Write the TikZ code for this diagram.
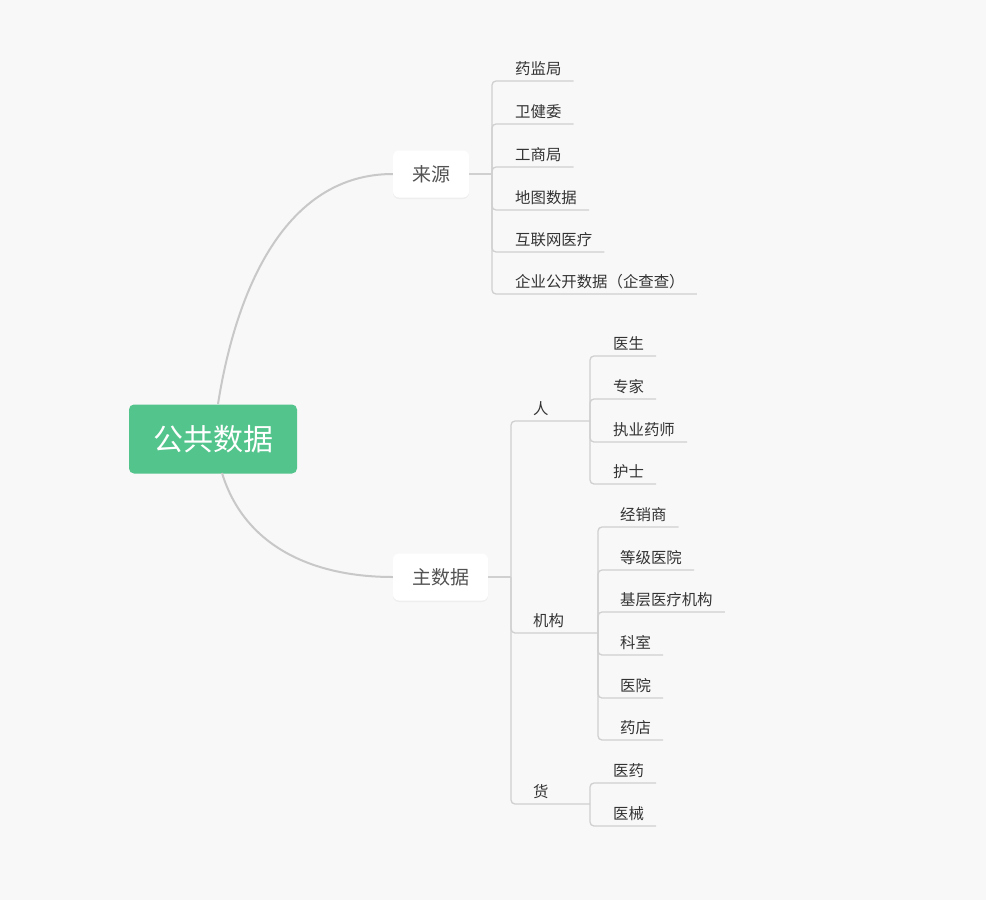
\documentclass[tikz,border=0pt]{standalone}
\usepackage{fontspec}
\setmainfont{Noto Sans CJK SC}
\usetikzlibrary{calc,shadows}
\definecolor{bg}{HTML}{F8F8F8}
\definecolor{rootgreen}{HTML}{52C48C}
\definecolor{linegray}{HTML}{D0D0D0}
\definecolor{curvegray}{HTML}{C8C8C8}
\definecolor{txt}{HTML}{333333}
\begin{document}
\begin{tikzpicture}[x=1pt,y=-1pt,
  leaf/.style={anchor=south west, inner sep=0pt, text height=12pt, text depth=6.5pt,
    font=\fontsize{15.4}{18}\selectfont, text=txt},
  topic/.style={fill=white, rounded corners=6pt, inner sep=0pt, font=\fontsize{19}{22}\selectfont,
    text=txt!85!white, drop shadow={shadow xshift=0pt, shadow yshift=-1.5pt, opacity=0.08}},
  conn/.style={draw=linegray, line width=1.3pt, rounded corners=4pt},
  curve/.style={draw=curvegray, line width=2pt}]
\fill[bg] (0,0) rectangle (986,900);
\useasboundingbox (0,0) rectangle (986,900);

% root
\node[fill=rootgreen, rounded corners=5pt, minimum width=168pt, minimum height=69pt, inner sep=0pt,
  text=white, font=\fontsize{30}{34}\selectfont] (root) at (213,439) {公共数据};
% topics
\node[topic, minimum width=76pt, minimum height=47pt] (src) at (431,174) {来源};
\node[topic, minimum width=95pt, minimum height=47pt] (mas) at (440.5,577) {主数据};

\coordinate (rt) at (218,404);
\coordinate (rb) at (222,473);
\draw[curve] (rt) .. controls (236,290) and (285,174) .. (src.west);
\draw[curve] (rb) .. controls (245,548) and (315,577) .. (mas.west);

% 来源 branch
\coordinate (sp) at (492,174);
\draw[conn] (src.east) -- (sp);
\node[leaf] (s1) at (515,81) {药监局};
\node[leaf] (s2) at (515,124) {卫健委};
\node[leaf] (s3) at (515,167) {工商局};
\node[leaf] (s4) at (515,210) {地图数据};
\node[leaf] (s5) at (515,252) {互联网医疗};
\node[leaf] (s6) at (515,294) {企业公开数据（企查查）};
\foreach \n in {s1,s2,s3,s4,s5,s6}
  \draw[conn] (sp) |- ($(\n.south east)+(12,0)$);

% 主数据 branch
\coordinate (mp) at (511,577);
\draw[conn] (mas.east) -- (mp);
\coordinate (rp) at (590,421);
\coordinate (jp) at (598,633);
\coordinate (hp) at (590,804);
\node[leaf] (ren) at (533,421) {人};
\node[leaf] (jg) at (533,633) {机构};
\node[leaf] (huo) at (533,804) {货};
\draw[conn] (mp) |- (rp);
\draw[conn] (mp) |- (jp);
\draw[conn] (mp) |- (hp);

% 人
\node[leaf] (r1) at (613,356) {医生};
\node[leaf] (r2) at (613,399) {专家};
\node[leaf] (r3) at (613,442) {执业药师};
\node[leaf] (r4) at (613,484) {护士};
\foreach \n in {r1,r2,r3,r4}
  \draw[conn] (rp) |- ($(\n.south east)+(12,0)$);

% 机构
\node[leaf] (j1) at (620,527) {经销商};
\node[leaf] (j2) at (620,570) {等级医院};
\node[leaf] (j3) at (620,612) {基层医疗机构};
\node[leaf] (j4) at (620,655) {科室};
\node[leaf] (j5) at (620,698) {医院};
\node[leaf] (j6) at (620,740) {药店};
\foreach \n in {j1,j2,j3,j4,j5,j6}
  \draw[conn] (jp) |- ($(\n.south east)+(12,0)$);

% 货
\node[leaf] (h1) at (613,783) {医药};
\node[leaf] (h2) at (613,826) {医械};
\foreach \n in {h1,h2}
  \draw[conn] (hp) |- ($(\n.south east)+(12,0)$);
\end{tikzpicture}
\end{document}
